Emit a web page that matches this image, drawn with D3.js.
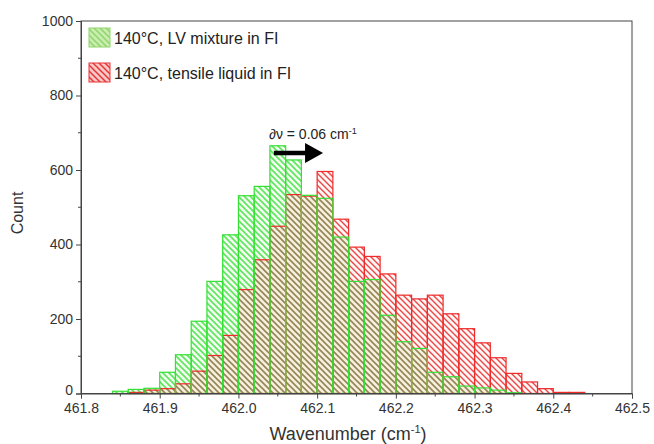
<!DOCTYPE html>
<html><head><meta charset="utf-8">
<script src="https://cdn.jsdelivr.net/npm/d3@7"></script>
<style>
body{margin:0;background:#fff;}
svg{display:block;font-family:"Liberation Sans",Arial,sans-serif;}
</style></head>
<body><svg id="c" width="654" height="444"></svg>
<script>
const binStartsGreen = [461.84,461.86,461.88,461.90,461.92,461.94,461.96,461.98,462.00,462.02,462.04,462.06,462.08,462.10,462.12,462.14,462.16,462.18,462.20,462.22,462.24,462.26,462.28,462.30,462.32,462.34];
const countsGreen   = [6,11,14,57,104,194,301,426,531,556,665,627,532,524,420,301,306,210,139,121,57,45,20,15,9,2];
const binStartsRed  = [461.86,461.88,461.90,461.92,461.94,461.96,461.98,462.00,462.02,462.04,462.06,462.08,462.10,462.12,462.14,462.16,462.18,462.20,462.22,462.24,462.26,462.28,462.30,462.32,462.34,462.36,462.38,462.40,462.42];
const countsRed     = [3,9,13,26,60,102,156,279,359,449,534,530,596,468,393,368,321,264,254,264,214,174,136,96,54,31,13,3,3];
const binWidth = 0.02;
const xTicks = [461.8,461.9,462.0,462.1,462.2,462.3,462.4,462.5];
const yTicks = [0,200,400,600,800,1000];
const seriesNames = ["140°C, LV mixture in FI","140°C, tensile liquid in FI"];
const annotationText = "∂ν = 0.06 cm";
const shiftFrom = 462.045, shiftTo = 462.105;

const svg = d3.select("#c");
const L=81,R=632,T=21,B=393.5;
const x = d3.scaleLinear().domain([461.8,462.5]).range([L,R]);
const y = d3.scaleLinear().domain([0,1000]).range([B,T]);

const defs = svg.append("defs");
function hatch(id, color, bg, w){
  const p = defs.append("pattern").attr("id",id).attr("patternUnits","userSpaceOnUse")
    .attr("width",6).attr("height",6);
  if(bg) p.append("rect").attr("width",6).attr("height",6).attr("fill",bg);
  p.append("path").attr("d","M-1,-1L7,7M-1,5L1,7M5,-1L7,1").attr("stroke",color).attr("stroke-width",w);
}
hatch("hg","#5ee65e","#f3fdf0",1.6);
hatch("hr","#ec4848","#fff6f6",1.4);
hatch("ho","#958458","#f6f1dc",1.6);
hatch("lg","#8fd66a","#c9ecb0",1.5);
hatch("lr","#e83535","#f7c8c8",1.5);

const key = d => Math.round(d*100);
const redMap = new Map(binStartsRed.map((d,i)=>[key(d),countsRed[i]]));
const overlap = binStartsGreen.map((d,i)=>({x:d,c:Math.min(countsGreen[i], redMap.get(key(d))||0)})).filter(o=>o.c>0);

const bw = d=>x(d+binWidth)-x(d);
// fills
svg.append("g").selectAll("rect").data(binStartsGreen).join("rect")
  .attr("x",d=>x(d)).attr("width",bw)
  .attr("y",(d,i)=>y(countsGreen[i])).attr("height",(d,i)=>B-y(countsGreen[i]))
  .attr("fill","url(#hg)");
svg.append("g").selectAll("rect").data(binStartsRed).join("rect")
  .attr("x",d=>x(d)).attr("width",bw)
  .attr("y",(d,i)=>y(countsRed[i])).attr("height",(d,i)=>B-y(countsRed[i]))
  .attr("fill","url(#hr)");
svg.append("g").selectAll("rect").data(overlap).join("rect")
  .attr("x",d=>x(d.x)).attr("width",d=>bw(d.x))
  .attr("y",d=>y(d.c)).attr("height",d=>B-y(d.c))
  .attr("fill","url(#ho)");
// outlines
svg.append("g").selectAll("rect").data(binStartsRed).join("rect")
  .attr("x",d=>x(d)).attr("width",bw)
  .attr("y",(d,i)=>y(countsRed[i])).attr("height",(d,i)=>B-y(countsRed[i]))
  .attr("fill","none").attr("stroke","#ee2a2a").attr("stroke-width",1.2);
svg.append("g").selectAll("rect").data(binStartsGreen).join("rect")
  .attr("x",d=>x(d)).attr("width",bw)
  .attr("y",(d,i)=>y(countsGreen[i])).attr("height",(d,i)=>B-y(countsGreen[i]))
  .attr("fill","none").attr("stroke","#33e033").attr("stroke-width",1.2);

// frame
svg.append("rect").attr("x",L).attr("y",T).attr("width",R-L).attr("height",B-T)
  .attr("fill","none").attr("stroke","#444").attr("stroke-width",1);

// axes
const xAxis = d3.axisBottom(x).tickValues(xTicks).tickFormat(d3.format(".1f")).tickSize(5).tickPadding(5);
const gx = svg.append("g").attr("transform",`translate(0,${B})`).call(xAxis);
gx.select(".domain").attr("stroke","#444");
gx.selectAll(".tick line").attr("stroke","#444");
gx.selectAll("text").attr("font-size",14).attr("fill","#333").attr("font-family","Liberation Sans, Arial");
const xMinor = d3.range(461.85,462.5,0.1);
svg.append("g").selectAll("line").data(xMinor).join("line")
  .attr("x1",d=>x(d)).attr("x2",d=>x(d)).attr("y1",B).attr("y2",B+3).attr("stroke","#444");

const yAxis = d3.axisLeft(y).tickValues(yTicks).tickFormat(d3.format("d")).tickSize(5).tickPadding(3);
const gy = svg.append("g").attr("transform",`translate(${L},0)`).call(yAxis);
gy.select(".domain").attr("stroke","#444");
gy.selectAll(".tick line").attr("stroke","#444");
gy.selectAll("text").attr("font-size",14).attr("fill","#333").attr("font-family","Liberation Sans, Arial");
gy.selectAll(".tick").filter(d=>d===0).select("text").attr("dy","0.1em");
const yMinor = [100,300,500,700,900];
svg.append("g").selectAll("line").data(yMinor).join("line")
  .attr("x1",L-3).attr("x2",L).attr("y1",d=>y(d)).attr("y2",d=>y(d)).attr("stroke","#444");

// axis titles
svg.append("text").attr("transform","translate(23,213) rotate(-90)").attr("text-anchor","middle")
  .attr("font-size",16).attr("fill","#333").text("Count");
const xt = svg.append("text").attr("x",348).attr("y",440).attr("text-anchor","middle")
  .attr("font-size",18).attr("fill","#333");
xt.append("tspan").text("Wavenumber (cm");
xt.append("tspan").attr("font-size",11).attr("dy",-7).text("-1");
xt.append("tspan").attr("dy",7).text(")");

// legend
const leg = [{n:seriesNames[0],f:"url(#lg)",s:"#8fd66a",y:28},{n:seriesNames[1],f:"url(#lr)",s:"#e83535",y:63}];
leg.forEach(l=>{
  svg.append("rect").attr("x",89).attr("y",l.y).attr("width",21).attr("height",19)
    .attr("fill",l.f).attr("stroke",l.s).attr("stroke-width",1);
  svg.append("text").attr("x",114).attr("y",l.y+16).attr("font-size",16).attr("fill","#222").text(l.n);
});

// annotation
const at = svg.append("text").attr("x",269).attr("y",139).attr("font-size",14).attr("fill","#222");
at.append("tspan").text(annotationText);
at.append("tspan").attr("font-size",9).attr("dy",-5).text("-1");
const ay = 153;
svg.append("line").attr("x1",x(shiftFrom)).attr("x2",x(shiftTo)-14).attr("y1",ay).attr("y2",ay)
  .attr("stroke","#000").attr("stroke-width",4.5);
svg.append("path").attr("d",`M${x(shiftTo)-16},${ay-10}L${x(shiftTo)+2},${ay}L${x(shiftTo)-16},${ay+10}Z`).attr("fill","#000");
</script></body></html>
